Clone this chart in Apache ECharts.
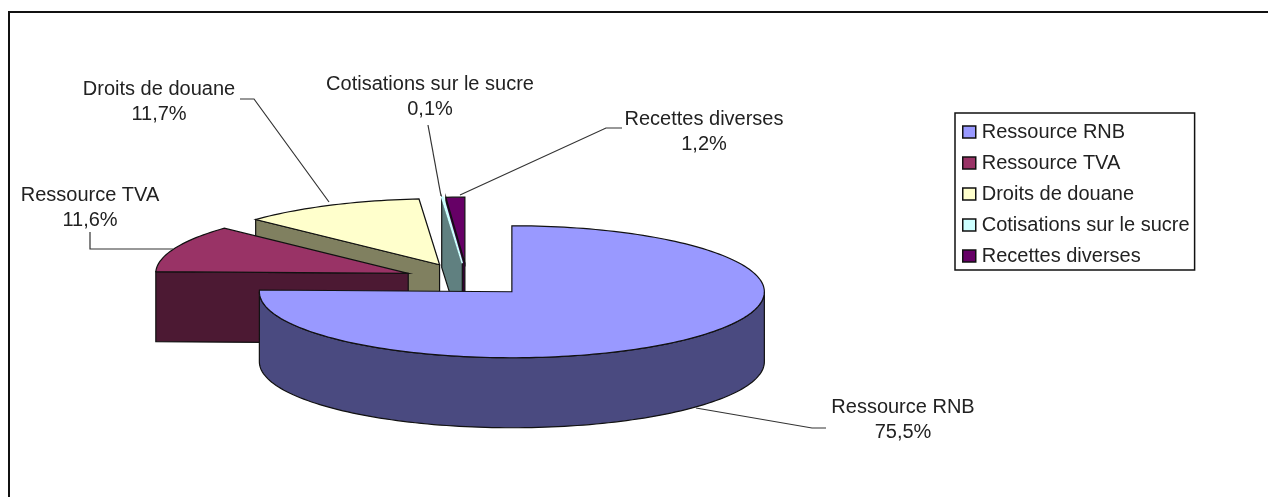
<!DOCTYPE html>
<html>
<head>
<meta charset="utf-8">
<style>
    html, body { margin: 0; padding: 0; background: #fff; }
    #chart { width: 1268px; height: 497px; }
</style>
</head>
<body>
<div id="chart"></div>
<script src="https://cdn.jsdelivr.net/npm/echarts@6/dist/echarts.min.js"></script>
<script>
const categories = ['Ressource RNB', 'Ressource TVA', 'Droits de douane', 'Cotisations sur le sucre', 'Recettes diverses'];
const shares = [75.5, 11.6, 11.7, 0.1, 1.2];
const topColors = ['#9999ff', '#993366', '#ffffcc', '#ccffff', '#660066'];
const sideColors = ['#4a4a80', '#4c1933', '#808060', '#608080', '#330033'];

// pie projection: an ellipse seen from above, each slice pushed out along its middle angle
const pieX = 467.3, pieY = 279.8, radiusX = 252.5, radiusY = 66, depth = 70, explode = 0.253;

// label centres and leader lines
const labelSpots = [[903, 420], [90, 208], [159, 102], [430, 97], [704, 132]];
const leaders = [
    [[696, 408], [812, 428], [826, 428]],
    [[90, 232], [90, 249], [173, 249]],
    [[240, 99], [254, 99], [329, 202]],
    [[428, 125], [441, 196]],
    [[622, 128], [606, 128], [460, 195]]
];

const font = '"Liberation Sans", Arial, sans-serif';
const total = shares.reduce((a, b) => a + b, 0);

let running = 0;
const sliceAngles = shares.map(v => {
    const from = running / total * 360;
    running += v;
    return [from, running / total * 360];
});

function rad(deg) {
    return deg * Math.PI / 180;
}

function rimPoint(cx, cy, deg, drop) {
    return [cx + radiusX * Math.sin(rad(deg)), cy - radiusY * Math.cos(rad(deg)) + drop];
}

function arcPoints(cx, cy, from, to, drop) {
    const pts = [];
    const steps = Math.max(2, Math.ceil((to - from) / 1.5));
    for (let i = 0; i <= steps; i++) {
        pts.push(rimPoint(cx, cy, from + (to - from) * i / steps, drop));
    }
    return pts;
}

function makeRender(index) {
    return function (params, api) {
        const sweep = api.value(0) / total * 360;
        const from = sliceAngles[index][0];
        const to = from + sweep;
        const mid = rad(from + sweep / 2);
        const cx = pieX + explode * radiusX * Math.sin(mid);
        const cy = pieY - explode * radiusY * Math.cos(mid);
        const side = { fill: sideColors[index], stroke: '#111', lineWidth: 1.2 };
        const children = [];

        // cut faces, only those turned towards the viewer
        if (from > 180 && from < 360) {
            const a = rimPoint(cx, cy, from, 0);
            children.push({
                type: 'polygon',
                shape: { points: [[cx, cy], a, [a[0], a[1] + depth], [cx, cy + depth]] },
                style: side
            });
        }
        // outer wall for the front half
        const wallFrom = Math.max(from, 90), wallTo = Math.min(to, 270);
        if (wallTo > wallFrom) {
            const upper = arcPoints(cx, cy, wallFrom, wallTo, 0);
            const lower = arcPoints(cx, cy, wallFrom, wallTo, depth).reverse();
            children.push({
                type: 'polygon',
                shape: { points: upper.concat(lower) },
                style: side
            });
        }
        // top face, a black outline would swallow a sliver
        const sliver = sweep < 1;
        children.push({
            type: 'polygon',
            shape: { points: [[cx, cy]].concat(arcPoints(cx, cy, from, to, 0)) },
            style: { fill: topColors[index], stroke: sliver ? topColors[index] : '#111', lineWidth: sliver ? 1.6 : 1.2 }
        });
        return { type: 'group', children: children };
    };
}

const series = categories.map((name, i) => ({
    name: name,
    type: 'custom',
    coordinateSystem: 'none',
    z: 2 + categories.length - i,
    silent: true,
    animation: false,
    clip: false,
    itemStyle: { color: topColors[i] },
    renderItem: makeRender(i),
    data: [[shares[i]]]
}));

const graphics = [{
    type: 'polyline',
    z: 1,
    shape: { points: [[9, 497], [9, 12], [1268, 12]] },
    style: { stroke: '#111', lineWidth: 2, fill: 'none' }
}];
leaders.forEach(pts => {
    graphics.push({
        type: 'polyline',
        z: 20,
        shape: { points: pts },
        style: { stroke: '#333', lineWidth: 1.2, fill: 'none' }
    });
});
categories.forEach((name, i) => {
    graphics.push({
        type: 'text',
        z: 20,
        x: labelSpots[i][0],
        y: labelSpots[i][1],
        style: {
            text: name + '\n' + shares[i].toFixed(1).replace('.', ',') + '%',
            font: '20px ' + font,
            lineHeight: 25,
            fill: '#222',
            align: 'center',
            verticalAlign: 'middle'
        }
    });
});

const myChart = echarts.init(document.getElementById('chart'), null, { renderer: 'canvas' });
myChart.setOption({
    animation: false,
    backgroundColor: '#fff',
    legend: {
        orient: 'vertical',
        left: 955,
        top: 113,
        padding: [9, 5, 4, 7],
        itemWidth: 13,
        itemHeight: 12,
        itemGap: 11,
        selectedMode: false,
        borderColor: '#111',
        borderWidth: 1.5,
        backgroundColor: '#fff',
        icon: 'rect',
        itemStyle: { borderColor: '#111', borderWidth: 1.5 },
        textStyle: { fontFamily: font, fontSize: 20, color: '#222', padding: [0, 0, 0, 1] },
        data: categories.map((name, i) => ({ name: name, itemStyle: { color: topColors[i] } }))
    },
    graphic: graphics,
    series: series
});
</script>
</body>
</html>
